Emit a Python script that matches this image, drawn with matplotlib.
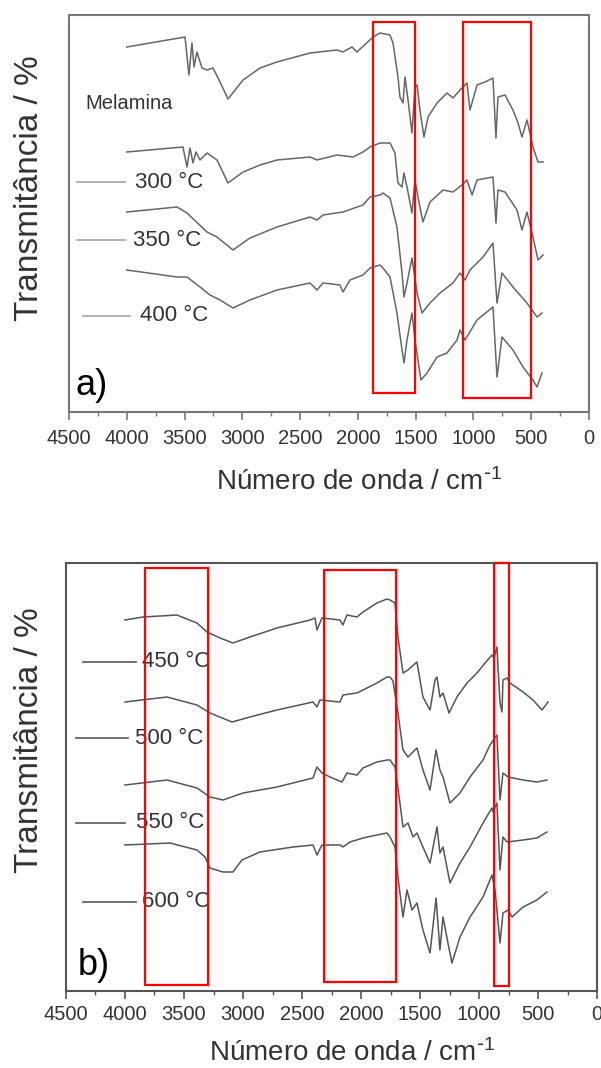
import matplotlib
matplotlib.use("Agg")
import matplotlib.pyplot as plt
import matplotlib.transforms as mtransforms
from matplotlib.patches import Rectangle
from matplotlib.lines import Line2D
from matplotlib.ticker import MultipleLocator

plt.rcParams['font.family'] = ['Liberation Sans', 'DejaVu Sans']
plt.rcParams['mathtext.default'] = 'regular'

# ---- panel a: melamine and 300-400 C (wavenumber cm-1, transmittance a.u.)
wn_mel = [4000, 3496, 3462, 3436, 3418, 3393, 3349, 3306, 3254, 3193, 3124, 2994, 2847, 2700,
          2414, 2181, 2129, 2051, 2008, 1869, 1809, 1722, 1696, 1653, 1636, 1610, 1592, 1566,
          1532, 1506, 1488, 1463, 1428, 1393, 1315, 1229, 1177, 1116, 1056, 1030, 969, 900,
          831, 805, 788, 727, 658, 614, 580, 537, 511, 485, 441, 398]
t_mel = [365, 375, 337, 369, 345, 360, 344, 342, 344, 330, 313, 332, 344, 350,
         359, 362, 360, 365, 360, 375, 379, 377, 369, 335, 315, 309, 335, 312,
         279, 325, 327, 302, 275, 295, 309, 319, 314, 322, 329, 302, 327, 330,
         334, 274, 315, 317, 302, 289, 275, 292, 279, 265, 250, 250]

wn_300 = [4000, 3514, 3479, 3453, 3427, 3401, 3366, 3306, 3219, 3124, 2994, 2847, 2700, 2414,
          2354, 2181, 2042, 1956, 1895, 1809, 1722, 1679, 1653, 1618, 1601, 1575, 1532, 1506,
          1480, 1437, 1376, 1263, 1177, 1099, 1056, 1012, 969, 831, 805, 788, 727, 623,
          580, 537, 485, 441, 398]
t_300 = [260, 265, 245, 264, 249, 260, 252, 259, 252, 229, 240, 247, 252, 255,
         252, 257, 255, 260, 265, 269, 269, 259, 229, 225, 239, 225, 199, 232,
         215, 190, 210, 222, 220, 227, 232, 217, 232, 235, 189, 222, 220, 202,
         182, 200, 175, 152, 157]

wn_350 = [4000, 3565, 3479, 3306, 3219, 3081, 2934, 2700, 2414, 2354, 2302, 2129, 1956, 1895,
          1809, 1783, 1722, 1662, 1618, 1601, 1575, 1532, 1488, 1445, 1376, 1289, 1177, 1116,
          1073, 1030, 917, 831, 796, 753, 658, 537, 450, 407]
t_350 = [200, 205, 199, 180, 175, 162, 174, 185, 195, 192, 197, 200, 207, 215,
         217, 219, 214, 185, 139, 115, 129, 154, 119, 99, 109, 119, 129, 139,
         132, 142, 155, 169, 109, 139, 125, 109, 95, 99]

wn_400 = [4000, 3565, 3479, 3366, 3280, 3193, 3081, 2934, 2700, 2414, 2354, 2302, 2155, 2129,
          2068, 1956, 1895, 1809, 1783, 1722, 1662, 1618, 1601, 1575, 1532, 1506, 1454, 1402,
          1315, 1229, 1142, 1116, 1073, 969, 831, 796, 753, 658, 571, 485, 450, 407]
t_400 = [142, 135, 135, 125, 117, 112, 104, 112, 122, 129, 122, 129, 127, 120,
         132, 137, 144, 147, 144, 135, 99, 62, 49, 72, 99, 72, 32, 39,
         55, 59, 72, 82, 72, 92, 105, 35, 75, 62, 45, 32, 25, 39]

# ---- panel b: 450-600 C
wn_450 = [4000, 3848, 3560, 3390, 3305, 3195, 3085, 2941, 2712, 2432, 2390, 2373, 2331, 2178,
          2153, 2119, 2034, 1983, 1865, 1780, 1754, 1712, 1687, 1644, 1602, 1526, 1475, 1415,
          1373, 1356, 1331, 1305, 1254, 1187, 1102, 1017, 949, 890, 873, 848, 822, 805,
          797, 763, 737, 627, 542, 466, 415]
t_450 = [371, 374, 376, 368, 359, 353, 348, 354, 363, 371, 373, 361, 373, 371,
         366, 376, 374, 379, 388, 392, 391, 388, 354, 318, 321, 329, 294, 281,
         311, 314, 294, 298, 278, 294, 308, 318, 328, 336, 333, 344, 288, 279,
         311, 313, 308, 299, 291, 281, 289]

wn_500 = [4000, 3644, 3390, 3280, 3093, 2941, 2712, 2407, 2373, 2348, 2178, 2153, 2034, 1865,
          1780, 1754, 1729, 1687, 1644, 1602, 1526, 1475, 1415, 1364, 1331, 1305, 1246, 1161,
          1076, 966, 907, 848, 822, 797, 754, 627, 509, 424]
t_500 = [289, 294, 286, 278, 269, 274, 281, 289, 284, 291, 289, 296, 298, 308,
         314, 314, 310, 278, 241, 234, 243, 221, 201, 241, 221, 214, 188, 198,
         214, 231, 246, 256, 191, 218, 214, 211, 209, 211]

wn_550 = [4000, 3644, 3390, 3280, 3170, 3000, 2712, 2407, 2373, 2331, 2263, 2161, 2119, 2034,
          1983, 1865, 1780, 1754, 1712, 1670, 1644, 1602, 1559, 1526, 1475, 1415, 1356, 1331,
          1305, 1246, 1161, 1076, 966, 890, 881, 848, 822, 797, 763, 627, 509, 424]
t_550 = [206, 211, 203, 194, 191, 198, 204, 213, 224, 218, 214, 209, 218, 216,
         223, 229, 231, 231, 224, 188, 164, 168, 154, 158, 144, 128, 164, 138,
         144, 108, 128, 144, 168, 183, 179, 188, 121, 154, 149, 151, 153, 159]

wn_600 = [4000, 3619, 3390, 3322, 3280, 3170, 3085, 3009, 2856, 2576, 2407, 2373, 2331, 2178,
          2153, 2093, 1983, 1865, 1780, 1754, 1712, 1687, 1644, 1610, 1568, 1526, 1475, 1415,
          1364, 1331, 1305, 1263, 1229, 1161, 1076, 966, 890, 864, 822, 797, 754, 720,
          627, 509, 424]
t_600 = [146, 148, 141, 134, 123, 119, 119, 131, 139, 144, 146, 136, 146, 146,
         144, 149, 153, 156, 158, 154, 144, 114, 74, 101, 81, 88, 61, 38,
         93, 41, 74, 48, 28, 54, 74, 94, 116, 101, 48, 78, 81, 74,
         84, 91, 99]

# highlighted regions (cm-1)
boxes_a = [(1505, 1870, 0.048, 0.982), (500, 1090, 0.035, 0.982)]
boxes_b = [(3297, 3831, 0.014, 0.988), (1703, 2314, 0.021, 0.984), (746, 873, 0.012, 1.0)]

fig = plt.figure(figsize=(6.01, 10.68), dpi=100)
ax_a = fig.add_axes([69/601, 1 - 412/1068, 520/601, 397/1068])
ax_b = fig.add_axes([66/601, 1 - 991/1068, 531/601, 428/1068])


def style_axes(ax, spine_col, ylim, pad):
    ax.set_xlim(4500, 0)
    ax.set_ylim(*ylim)
    ax.xaxis.set_major_locator(MultipleLocator(500))
    ax.xaxis.set_minor_locator(MultipleLocator(250))
    ax.set_yticks([])
    ax.tick_params(axis='x', which='major', length=6, width=1.2, color=spine_col,
                   labelsize=14.5, labelcolor='#333333', pad=pad)
    ax.tick_params(axis='x', which='minor', length=3, width=1.0, color=spine_col)
    for s in ax.spines.values():
        s.set_color(spine_col)
        s.set_linewidth(1.5)


style_axes(ax_a, '#777777', (0, 397), 6)
style_axes(ax_b, '#555555', (0, 428), 4)

# spectra
curve_col_a = '#666666'
ax_a.plot(wn_mel, t_mel, color=curve_col_a, lw=1.1)
ax_a.plot(wn_300, t_300, color=curve_col_a, lw=1.1)
ax_a.plot(wn_350, t_350, color=curve_col_a, lw=1.1)
ax_a.plot(wn_400, t_400, color=curve_col_a, lw=1.1)

curve_col_b = '#555555'
ax_b.plot(wn_450, t_450, color=curve_col_b, lw=1.1)
ax_b.plot(wn_500, t_500, color=curve_col_b, lw=1.1)
ax_b.plot(wn_550, t_550, color=curve_col_b, lw=1.1)
ax_b.plot(wn_600, t_600, color=curve_col_b, lw=1.1)

# red boxes
for ax, boxes in [(ax_a, boxes_a), (ax_b, boxes_b)]:
    trans = mtransforms.blended_transform_factory(ax.transData, ax.transAxes)
    for x0, x1, y0, y1 in boxes:
        ax.add_patch(Rectangle((x0, y0), x1 - x0, y1 - y0, transform=trans,
                               fill=False, edgecolor='#ff0000', lw=1.6, clip_on=False, zorder=5))

# series labels with short line keys
txt_col = '#333333'
ax_a.text(0.031, 0.778, 'Melamina', transform=ax_a.transAxes, fontsize=14.5,
          color=txt_col, va='center')
labels_a = [('300 °C', 0.015, 0.108, 0.579, 0.127),
            ('350 °C', 0.015, 0.108, 0.433, 0.123),
            ('400 °C', 0.027, 0.117, 0.242, 0.137)]
for lab, x0, x1, y, xt in labels_a:
    ax_a.add_line(Line2D([x0, x1], [y, y], transform=ax_a.transAxes, color='#aaaaaa', lw=1.3))
    ax_a.text(xt, y, lab, transform=ax_a.transAxes, fontsize=16, color=txt_col, va='center')

labels_b = [('450 °C', 0.032, 0.132, 0.769, 0.143),
            ('500 °C', 0.019, 0.117, 0.591, 0.130),
            ('550 °C', 0.019, 0.111, 0.393, 0.132),
            ('600 °C', 0.032, 0.132, 0.208, 0.143)]
for lab, x0, x1, y, xt in labels_b:
    ax_b.add_line(Line2D([x0, x1], [y, y], transform=ax_b.transAxes, color='#666666', lw=1.3))
    ax_b.text(xt, y, lab, transform=ax_b.transAxes, fontsize=16, color=txt_col, va='center')

ax_a.text(0.013, 0.043, 'a)', transform=ax_a.transAxes, fontsize=26, color='black', va='baseline')
ax_b.text(0.023, 0.037, 'b)', transform=ax_b.transAxes, fontsize=26, color='black', va='baseline')

# axis titles
xlab = r'Número de onda / cm$^{\text{-}1}$'
ylab = 'Transmitância / %'
fig.text(359/601, 1 - 482/1068, xlab, fontsize=20, color=txt_col, ha='center', va='center')
fig.text(352/601, 1 - 1053/1068, xlab, fontsize=20, color=txt_col, ha='center', va='center')
fig.text(30/601, 1 - 188/1068, ylab, fontsize=24, color=txt_col, ha='center', va='center',
         rotation=90)
fig.text(30/601, 1 - 740/1068, ylab, fontsize=24, color=txt_col, ha='center', va='center',
         rotation=90)

fig.savefig('out.png', dpi=100)
